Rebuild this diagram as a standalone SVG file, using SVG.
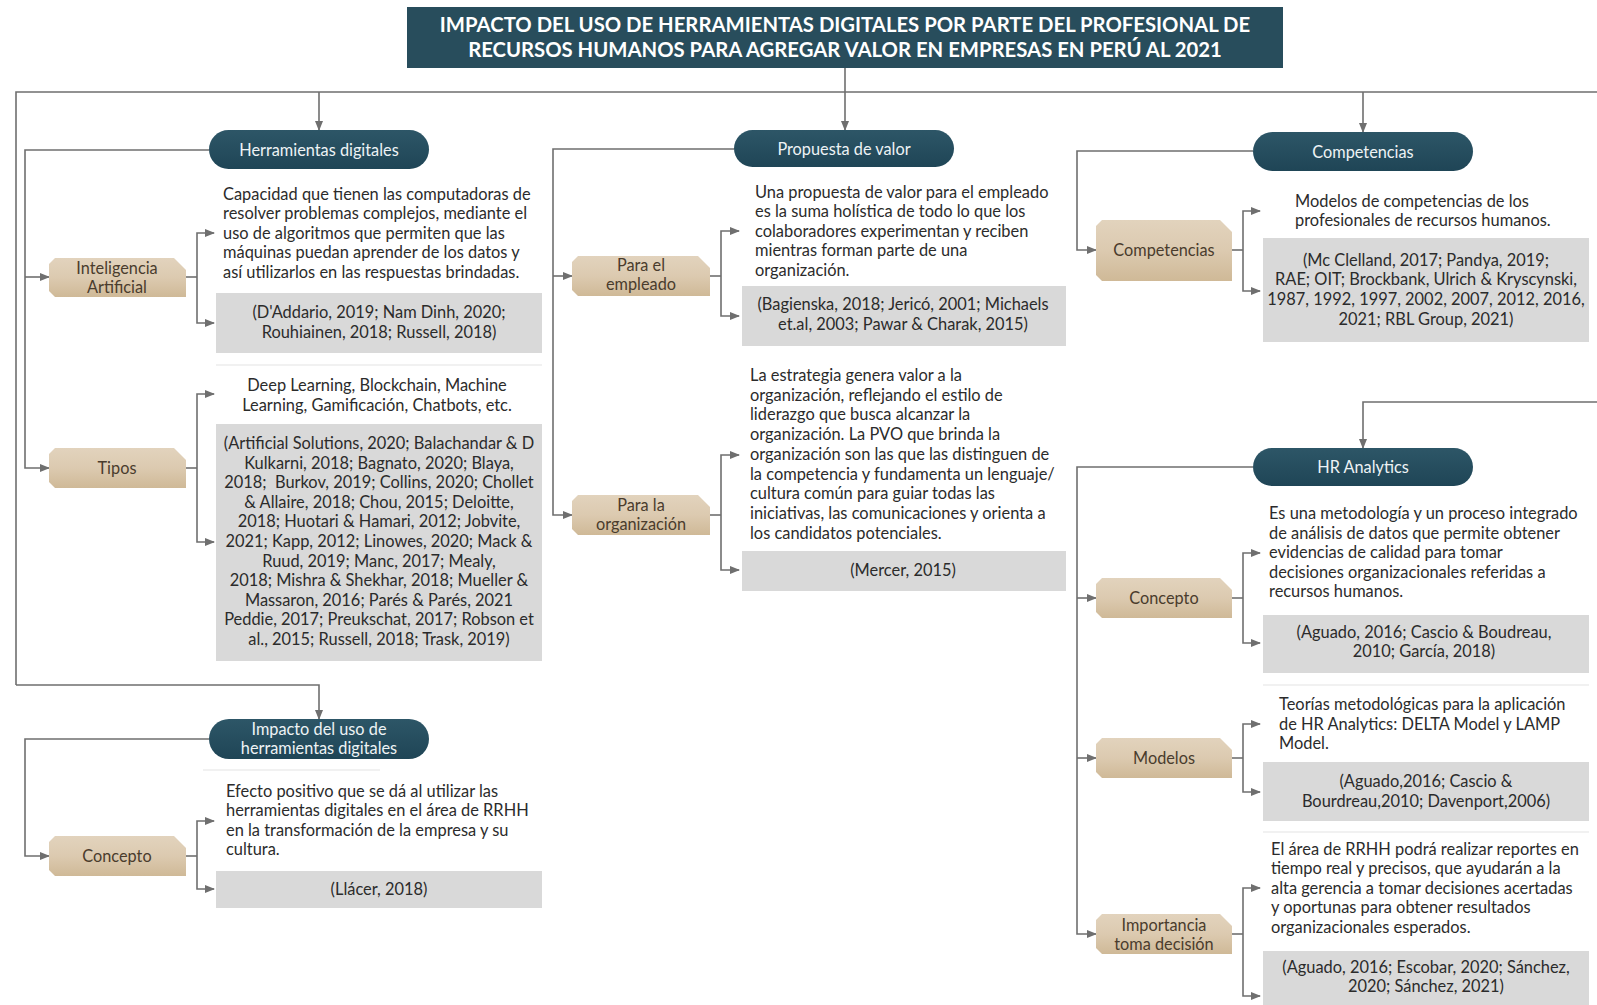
<svg xmlns="http://www.w3.org/2000/svg" width="1597" height="1005" viewBox="0 0 1597 1005">
<defs>
<marker id="arr" viewBox="0 0 10 10" refX="9" refY="5" markerWidth="10" markerHeight="10" markerUnits="userSpaceOnUse" orient="auto">
<path d="M0,1 L10,5 L0,9 Z" fill="#6f6f6f"/>
</marker>
<linearGradient id="tan" x1="0" y1="0" x2="0" y2="1">
<stop offset="0" stop-color="#e2d3bd"/>
<stop offset="0.5" stop-color="#dccab0"/>
<stop offset="1" stop-color="#cfb997"/>
</linearGradient>
<linearGradient id="teal" x1="0" y1="0" x2="0" y2="1">
<stop offset="0" stop-color="#2d5667"/>
<stop offset="1" stop-color="#1f4556"/>
</linearGradient>
</defs>
<style>
.c{fill:none;stroke:#6f6f6f;stroke-width:1.6}
.a{marker-end:url(#arr)}
.faint{fill:none;stroke:#e3e3e3;stroke-width:1.2}
.pill{fill:url(#teal)}
.tan{fill:url(#tan)}
.gray{fill:#d9d9d9}
.pt{font-family:Lato,"Open Sans",sans-serif;font-size:16.3px;fill:#eef3f5;text-anchor:middle}
.tt{font-family:Lato,"Open Sans",sans-serif;font-size:16.3px;fill:#4a3c2d;text-anchor:middle}
.d{font-family:Lato,"Open Sans",sans-serif;font-size:16.4px;fill:#2b2b2b}
.m{text-anchor:middle}
.title{font-family:Lato,"Open Sans",sans-serif;font-size:20.3px;font-weight:bold;fill:#ffffff;text-anchor:middle}
</style>
<rect x="0" y="0" width="1597" height="1005" fill="#ffffff"/>

<g id="connectors">
<path class="c" d="M16,685 V92 H1597"/>
<path class="c a" d="M845,68 V130"/>
<path class="c a" d="M319,92 V130"/>
<path class="c a" d="M1363,92 V132"/>
<path class="c a" d="M16,685 H319 V719"/>
<path class="c a" d="M1600,402 H1363 V448"/>
<path class="c" d="M1600,92 V402"/>
<path class="c a" d="M209,150 H25 V468 H49"/>
<path class="c a" d="M25,277 H49"/>
<path class="c" d="M186,277 H197"/>
<path class="c a" d="M197,277 V233 H214"/>
<path class="c a" d="M197,277 V323 H214"/>
<path class="c" d="M186,468 H197"/>
<path class="c a" d="M197,468 V394 H214"/>
<path class="c a" d="M197,468 V542 H214"/>
<path class="c a" d="M209,739 H25 V856 H49"/>
<path class="c" d="M186,856 H197"/>
<path class="c a" d="M197,856 V821 H214"/>
<path class="c a" d="M197,856 V889 H214"/>
<path class="c a" d="M734,149 H553 V515 H572"/>
<path class="c a" d="M553,276 H572"/>
<path class="c" d="M710,276 H721"/>
<path class="c a" d="M721,276 V231 H739"/>
<path class="c a" d="M721,276 V316 H739"/>
<path class="c" d="M710,515 H721"/>
<path class="c a" d="M721,515 V455 H739"/>
<path class="c a" d="M721,515 V570 H739"/>
<path class="c a" d="M1253,151 H1077 V250 H1096"/>
<path class="c" d="M1232,250 H1243"/>
<path class="c a" d="M1243,250 V211 H1260"/>
<path class="c a" d="M1243,250 V291 H1260"/>
<path class="c a" d="M1253,467 H1077 V934 H1096"/>
<path class="c a" d="M1077,598 H1096"/>
<path class="c a" d="M1077,758 H1096"/>
<path class="c" d="M1232,598 H1243"/>
<path class="c a" d="M1243,598 V553 H1260"/>
<path class="c a" d="M1243,598 V643 H1260"/>
<path class="c" d="M1232,758 H1243"/>
<path class="c a" d="M1243,758 V724 H1260"/>
<path class="c a" d="M1243,758 V792 H1260"/>
<path class="c" d="M1232,934 H1243"/>
<path class="c a" d="M1243,934 V888 H1260"/>
<path class="c a" d="M1243,934 V996 H1260"/>
</g>

<g id="faint-lines">
<path class="faint" d="M216,365 H542"/>
<path class="faint" d="M203,770 H380"/>
<path class="faint" d="M1263,685 H1589"/>
<path class="faint" d="M1263,832 H1589"/>
</g>

<g id="title">
<rect x="407" y="7" width="876" height="61" fill="#284d5c"/>
<text class="title" x="845" y="31.5">IMPACTO DEL USO DE HERRAMIENTAS DIGITALES POR PARTE DEL PROFESIONAL DE</text>
<text class="title" x="845" y="57">RECURSOS HUMANOS PARA AGREGAR VALOR EN EMPRESAS EN PERÚ AL 2021</text>
</g>

<g id="herramientas">
<rect class="pill" x="209" y="130" width="220" height="39" rx="19.5"/>
<text class="pt" x="319" y="155.5">Herramientas digitales</text>
</g>

<g id="ia">
<path class="tan" d="M49,264 L55,258 H174 L186,270 V297 H55 L49,291 Z"/>
<text class="tt" x="117" y="273.5">Inteligencia</text>
<text class="tt" x="117" y="293">Artificial</text>
</g>
<g id="ia-desc">
<text class="d" x="223" y="199.5">Capacidad que tienen las computadoras de</text>
<text class="d" x="223" y="219">resolver problemas complejos, mediante el</text>
<text class="d" x="223" y="238.5">uso de algoritmos que permiten que las</text>
<text class="d" x="223" y="258">máquinas puedan aprender de los datos y</text>
<text class="d" x="223" y="277.5">así utilizarlos en las respuestas brindadas.</text>
</g>
<g id="ia-cite">
<rect class="gray" x="216" y="293" width="326" height="60"/>
<text class="d m" x="379" y="318">(D'Addario, 2019; Nam Dinh, 2020;</text>
<text class="d m" x="379" y="338">Rouhiainen, 2018; Russell, 2018)</text>
</g>

<g id="tipos">
<path class="tan" d="M49,454 L55,448 H174 L186,460 V488 H55 L49,482 Z"/>
<text class="tt" x="117" y="473.5">Tipos</text>
</g>
<g id="tipos-desc">
<text class="d m" x="377" y="391">Deep Learning, Blockchain, Machine</text>
<text class="d m" x="377" y="410.5">Learning, Gamificación, Chatbots, etc.</text>
</g>
<g id="tipos-cite">
<rect class="gray" x="216" y="424" width="326" height="237"/>
<text class="d m" x="379" y="449">(Artificial Solutions, 2020; Balachandar &amp; D</text>
<text class="d m" x="379" y="468.6">Kulkarni, 2018; Bagnato, 2020; Blaya,</text>
<text class="d m" x="379" y="488.2">2018; &#160;Burkov, 2019; Collins, 2020; Chollet</text>
<text class="d m" x="379" y="507.8">&amp; Allaire, 2018; Chou, 2015; Deloitte,</text>
<text class="d m" x="379" y="527.4">2018; Huotari &amp; Hamari, 2012; Jobvite,</text>
<text class="d m" x="379" y="547">2021; Kapp, 2012; Linowes, 2020; Mack &amp;</text>
<text class="d m" x="379" y="566.6">Ruud, 2019; Manc, 2017; Mealy,</text>
<text class="d m" x="379" y="586.2">2018; Mishra &amp; Shekhar, 2018; Mueller &amp;</text>
<text class="d m" x="379" y="605.8">Massaron, 2016; Parés &amp; Parés, 2021</text>
<text class="d m" x="379" y="625.4">Peddie, 2017; Preukschat, 2017; Robson et</text>
<text class="d m" x="379" y="645">al., 2015; Russell, 2018; Trask, 2019)</text>
</g>

<g id="impacto">
<rect class="pill" x="209" y="719" width="220" height="40" rx="20"/>
<text class="pt" x="319" y="734.5">Impacto del uso de</text>
<text class="pt" x="319" y="754">herramientas digitales</text>
</g>
<g id="impacto-concepto">
<path class="tan" d="M49,842 L55,836 H174 L186,848 V876 H55 L49,870 Z"/>
<text class="tt" x="117" y="861.5">Concepto</text>
</g>
<g id="impacto-desc">
<text class="d" x="226" y="796.5">Efecto positivo que se dá al utilizar las</text>
<text class="d" x="226" y="816">herramientas digitales en el área de RRHH</text>
<text class="d" x="226" y="835.5">en la transformación de la empresa y su</text>
<text class="d" x="226" y="855">cultura.</text>
</g>
<g id="impacto-cite">
<rect class="gray" x="216" y="871" width="326" height="37"/>
<text class="d m" x="379" y="894.5">(Llácer, 2018)</text>
</g>

<g id="propuesta">
<rect class="pill" x="734" y="130" width="220" height="37" rx="18.5"/>
<text class="pt" x="844" y="154.5">Propuesta de valor</text>
</g>
<g id="empleado">
<path class="tan" d="M572,262 L578,256 H698 L710,268 V296 H578 L572,290 Z"/>
<text class="tt" x="641" y="270.5">Para el</text>
<text class="tt" x="641" y="290">empleado</text>
</g>
<g id="empleado-desc">
<text class="d" x="755" y="197.5">Una propuesta de valor para el empleado</text>
<text class="d" x="755" y="217">es la suma holística de todo lo que los</text>
<text class="d" x="755" y="236.5">colaboradores experimentan y reciben</text>
<text class="d" x="755" y="256">mientras forman parte de una</text>
<text class="d" x="755" y="275.5">organización.</text>
</g>
<g id="empleado-cite">
<rect class="gray" x="742" y="286" width="324" height="60"/>
<text class="d m" x="903" y="309.5">(Bagienska, 2018; Jericó, 2001; Michaels</text>
<text class="d m" x="903" y="329.5">et.al, 2003; Pawar &amp; Charak, 2015)</text>
</g>
<g id="organizacion">
<path class="tan" d="M572,501 L578,495 H698 L710,507 V535 H578 L572,529 Z"/>
<text class="tt" x="641" y="510.5">Para la</text>
<text class="tt" x="641" y="530">organización</text>
</g>
<g id="organizacion-desc">
<text class="d" x="750" y="381">La estrategia genera valor a la</text>
<text class="d" x="750" y="400.7">organización, reflejando el estilo de</text>
<text class="d" x="750" y="420.4">liderazgo que busca alcanzar la</text>
<text class="d" x="750" y="440.1">organización. La PVO que brinda la</text>
<text class="d" x="750" y="459.8">organización son las que las distinguen de</text>
<text class="d" x="750" y="479.5">la competencia y fundamenta un lenguaje/</text>
<text class="d" x="750" y="499.2">cultura común para guiar todas las</text>
<text class="d" x="750" y="518.9">iniciativas, las comunicaciones y orienta a</text>
<text class="d" x="750" y="538.6">los candidatos potenciales.</text>
</g>
<g id="organizacion-cite">
<rect class="gray" x="742" y="551" width="324" height="40"/>
<text class="d m" x="903" y="575.5">(Mercer, 2015)</text>
</g>

<g id="competencias">
<rect class="pill" x="1253" y="132" width="220" height="39" rx="19.5"/>
<text class="pt" x="1363" y="157.5">Competencias</text>
</g>
<g id="competencias-box">
<path class="tan" d="M1096,226 L1102,220 H1220 L1232,232 V281 H1102 L1096,275 Z"/>
<text class="tt" x="1164" y="255.5">Competencias</text>
</g>
<g id="competencias-desc">
<text class="d" x="1295" y="206.7">Modelos de competencias de los</text>
<text class="d" x="1295" y="226">profesionales de recursos humanos.</text>
</g>
<g id="competencias-cite">
<rect class="gray" x="1263" y="238" width="326" height="104"/>
<text class="d m" x="1426" y="265.7">(Mc Clelland, 2017; Pandya, 2019;</text>
<text class="d m" x="1426" y="285.3">RAE; OIT; Brockbank, Ulrich &amp; Kryscynski,</text>
<text class="d m" x="1426" y="305">1987, 1992, 1997, 2002, 2007, 2012, 2016,</text>
<text class="d m" x="1426" y="324.6">2021; RBL Group, 2021)</text>
</g>

<g id="hr-analytics">
<rect class="pill" x="1253" y="448" width="220" height="38" rx="19"/>
<text class="pt" x="1363" y="472.5">HR Analytics</text>
</g>
<g id="hr-concepto">
<path class="tan" d="M1096,584 L1102,578 H1220 L1232,590 V618 H1102 L1096,612 Z"/>
<text class="tt" x="1164" y="603.5">Concepto</text>
</g>
<g id="hr-concepto-desc">
<text class="d" x="1269" y="519">Es una metodología y un proceso integrado</text>
<text class="d" x="1269" y="538.6">de análisis de datos que permite obtener</text>
<text class="d" x="1269" y="558.2">evidencias de calidad para tomar</text>
<text class="d" x="1269" y="577.8">decisiones organizacionales referidas a</text>
<text class="d" x="1269" y="597.4">recursos humanos.</text>
</g>
<g id="hr-concepto-cite">
<rect class="gray" x="1263" y="615" width="326" height="58"/>
<text class="d m" x="1424" y="637.5">(Aguado, 2016; Cascio &amp; Boudreau,</text>
<text class="d m" x="1424" y="657">2010; García, 2018)</text>
</g>
<g id="hr-modelos">
<path class="tan" d="M1096,744 L1102,738 H1220 L1232,750 V778 H1102 L1096,772 Z"/>
<text class="tt" x="1164" y="763.5">Modelos</text>
</g>
<g id="hr-modelos-desc">
<text class="d" x="1279" y="710">Teorías metodológicas para la aplicación</text>
<text class="d" x="1279" y="729.6">de HR Analytics: DELTA Model y LAMP</text>
<text class="d" x="1279" y="749">Model.</text>
</g>
<g id="hr-modelos-cite">
<rect class="gray" x="1263" y="762" width="326" height="59"/>
<text class="d m" x="1426" y="787">(Aguado,2016; Cascio &amp;</text>
<text class="d m" x="1426" y="806.5">Bourdreau,2010; Davenport,2006)</text>
</g>
<g id="hr-importancia">
<path class="tan" d="M1096,920 L1102,914 H1220 L1232,926 V954 H1102 L1096,948 Z"/>
<text class="tt" x="1164" y="930.5">Importancia</text>
<text class="tt" x="1164" y="949.5">toma decisión</text>
</g>
<g id="hr-importancia-desc">
<text class="d" x="1271" y="854.5">El área de RRHH podrá realizar reportes en</text>
<text class="d" x="1271" y="874">tiempo real y precisos, que ayudarán a la</text>
<text class="d" x="1271" y="893.5">alta gerencia a tomar decisiones acertadas</text>
<text class="d" x="1271" y="913">y oportunas para obtener resultados</text>
<text class="d" x="1271" y="932.5">organizacionales esperados.</text>
</g>
<g id="hr-importancia-cite">
<rect class="gray" x="1263" y="951" width="326" height="54"/>
<text class="d m" x="1426" y="972.6">(Aguado, 2016; Escobar, 2020; Sánchez,</text>
<text class="d m" x="1426" y="992">2020; Sánchez, 2021)</text>
</g>
</svg>
